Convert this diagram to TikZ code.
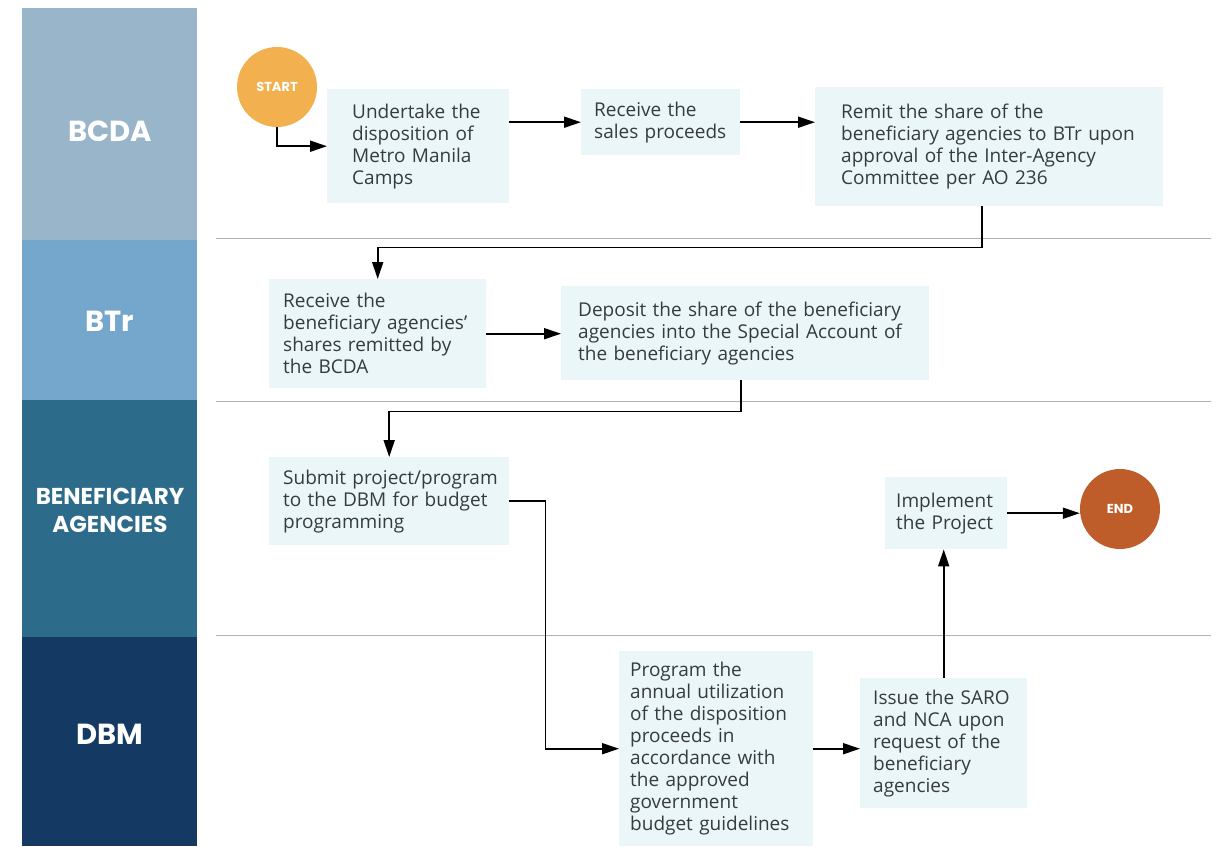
\documentclass[tikz,border=0pt]{standalone}
\usepackage{fontspec}
\setmainfont{Open Sans}
\newfontfamily\lanefont{Poppins}
\usetikzlibrary{arrows.meta}
\definecolor{laneA}{HTML}{98B5CA}
\definecolor{laneB}{HTML}{75A6CC}
\definecolor{laneC}{HTML}{2C6B8A}
\definecolor{laneD}{HTML}{143A63}
\definecolor{boxfill}{HTML}{EAF6F8}
\definecolor{txt}{HTML}{363B3F}
\definecolor{startc}{HTML}{F2B04E}
\definecolor{endc}{HTML}{BF5D2A}
\definecolor{sepc}{HTML}{B0B0B0}
\tikzset{
  proc/.style={fill=boxfill, text=txt, align=left, anchor=north west, inner ysep=0pt,
    font=\fontsize{19}{22}\selectfont},
  conn/.style={draw=black, line width=1.8pt, -{Triangle[length=17pt,width=11pt]}},
  lanelabel/.style={text=white, align=center, font=\lanefont\bfseries\fontsize{29}{30}\selectfont},
  terminal/.style={circle, minimum size=80pt, inner sep=0pt, text=white,
    font=\lanefont\bfseries\fontsize{13}{15}\selectfont},
  sepline/.style={draw=sepc, line width=1pt}
}
\begin{document}
\begin{tikzpicture}[x=1pt,y=-1pt]
\useasboundingbox (0,0) rectangle (1218,846);
% lanes
\fill[laneA] (22,8) rectangle (197,240);
\fill[laneB] (22,240) rectangle (197,400);
\fill[laneC] (22,400) rectangle (197,637);
\fill[laneD] (22,637) rectangle (197,846);
\node[lanelabel] (lA) at (110,131) {BCDA};
\node[lanelabel] (lB) at (110,321) {BTr};
\node[lanelabel, font=\lanefont\bfseries\fontsize{23}{28}\selectfont] (lC) at (110,510) {BENEFICIARY\\AGENCIES};
\node[lanelabel] (lD) at (110,734) {DBM};
% separators
\draw[sepline] (216,238) -- (1211,238);
\draw[sepline] (216,401) -- (1211,401);
\draw[sepline] (216,635) -- (1211,635);
% terminals
\node[terminal, fill=startc] (st) at (277,87) {START};
\node[terminal, fill=endc] (en) at (1120,509) {END};
% boxes
\node[proc, text width=132pt, inner xsep=25pt, minimum height=114pt] (u) at (327,89)
  {Undertake the\\disposition of\\Metro Manila\\Camps};
\node[proc, text width=133pt, inner xsep=13pt, minimum height=66pt] (s) at (581,89)
  {Receive the\\sales proceeds};
\node[proc, text width=296pt, inner xsep=26pt, minimum height=119pt] (r) at (815,87)
  {Remit the share of the\\beneficiary~agencies~to~BTr~upon\\approval of the Inter-Agency\\Committee per AO 236};
\node[proc, text width=189pt, inner xsep=14pt, minimum height=109pt] (b1) at (269,279)
  {Receive the\\beneficiary~agencies'\\shares remitted by\\the BCDA};
\node[proc, text width=334pt, inner xsep=17pt, minimum height=94pt] (d) at (561,286)
  {Deposit~the~share~of~the~beneficiary\\agencies~into~the~Special~Account~of\\the beneficiary agencies};
\node[proc, text width=212pt, inner xsep=14pt, minimum height=88pt] (sub) at (269,457)
  {Submit~project/program\\to~the~DBM~for~budget\\programming};
\node[proc, text width=100pt, inner xsep=11pt, minimum height=72pt] (imp) at (885,477)
  {Implement\\the~Project};
\node[proc, text width=172pt, inner xsep=11pt, minimum height=195pt] (p) at (619,651)
  {Program the\\annual~utilization\\of~the~disposition\\proceeds in\\accordance~with\\the approved\\government\\budget~guidelines};
\node[proc, text width=141pt, inner xsep=13pt, minimum height=130pt] (i) at (860,678)
  {Issue~the~SARO\\and~NCA~upon\\request~of~the\\beneficiary\\agencies};
% connectors
\draw[conn] (st.south) |- (u.west);
\draw[conn] (u.east|-s.west) -- (s.west);
\draw[conn] (s.east) -- (r.west|-s.east);
\draw[conn] (r.south) ++(-7,0) -- ++(0,41) -| (b1.north);
\draw[conn] (b1.east) -- (d.west|-b1.east);
\draw[conn] (d.south) ++(-4,0) -- ++(0,31) -| (sub.north);
\draw[conn] (sub.east) -- ++(36,0) |- (p.west);
\draw[conn] (p.east) -- (i.west|-p.east);
\draw[conn] (i.north) -- (i.north|-imp.south);
\draw[conn] (imp.east) -- (en.west|-imp.east);
\end{tikzpicture}
\end{document}
